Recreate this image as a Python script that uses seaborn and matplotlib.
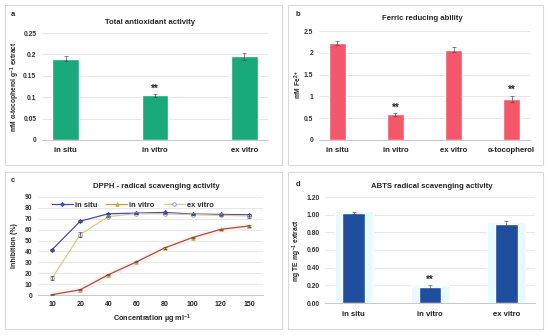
import numpy as np
import pandas as pd
import matplotlib
matplotlib.use("Agg")
import matplotlib.pyplot as plt
from matplotlib.patches import Rectangle
from matplotlib.lines import Line2D
import seaborn as sns

# ---- data ----
tac_labels = ["in situ", "in vitro", "ex vitro"]
tac_values = [0.190, 0.104, 0.196]
tac_errors = [0.006, 0.004, 0.008]

frap_labels = ["in situ", "in vitro", "ex vitro", "α-tocopherol"]
frap_values = [2.22, 0.59, 2.07, 0.95]
frap_errors = [0.05, 0.03, 0.06, 0.07]

conc_labels = ["10", "20", "40", "60", "80", "100", "120", "150"]
dpph_in_situ = [41.6, 67.8, 74.6, 75.2, 75.8, 74.3, 74.0, 73.7]
dpph_in_vitro = [0.3, 4.8, 18.6, 30.4, 43.2, 52.8, 60.3, 63.4]
dpph_ex_vitro = [15.4, 55.5, 72.0, 74.6, 74.6, 73.8, 73.2, 72.6]
dpph_in_situ_err = [0.8, 1.0, 0.6, 0.5, 0.6, 0.5, 0.6, 0.8]
dpph_in_vitro_err = [0.3, 0.4, 0.5, 0.5, 0.6, 0.6, 0.6, 0.7]
dpph_ex_vitro_err = [2.0, 2.5, 0.8, 0.6, 0.6, 0.5, 0.6, 1.5]

abts_labels = ["in situ", "in vitro", "ex vitro"]
abts_values = [1.02, 0.18, 0.90]
abts_errors = [0.015, 0.02, 0.025]

W, H = 550, 335
GREEN = "#19A97B"
RED = "#F4566A"
NAVY = "#1F4E9E"
GRID = "#E3E3E3"

sns.set_theme(style="white")
plt.rcParams["font.family"] = ["Liberation Sans", "DejaVu Sans"]
plt.rcParams["font.weight"] = "bold"
plt.rcParams["mathtext.default"] = "regular"

fig = plt.figure(figsize=(W / 100, H / 100), dpi=100)


def px_axes(l, t, r, b):
    return fig.add_axes([l / W, 1 - b / H, (r - l) / W, (b - t) / H])


def px_text(x, y, s, size=5.5, **kw):
    fig.text(x / W, 1 - y / H, s, fontsize=size, fontweight="bold",
             ha=kw.pop("ha", "center"), va=kw.pop("va", "center"), **kw)


def panel_box(l, t, r, b):
    fig.patches.append(Rectangle((l / W, 1 - b / H), (r - l) / W, (b - t) / H,
                                 transform=fig.transFigure, fill=False,
                                 ec="#D9D9D9", lw=0.8))


def style_axes(ax, ticks, fmt, xpad=5):
    ax.set_yticks(ticks)
    ax.set_yticklabels([fmt(t) for t in ticks])
    ax.set_ylim(ticks[0], ticks[-1])
    ax.grid(axis="y", color=GRID, lw=0.6)
    ax.grid(axis="x", visible=False)
    ax.set_axisbelow(True)
    for s in ["left", "top", "right"]:
        ax.spines[s].set_visible(False)
    ax.spines["bottom"].set_color("#C8C8C8")
    ax.spines["bottom"].set_linewidth(0.7)
    ax.tick_params(axis="y", length=0, pad=4, labelsize=4.9, labelcolor="#333333")
    ax.tick_params(axis="x", length=0, pad=xpad, labelsize=5.6, labelcolor="#222222")
    for lab in ax.get_xticklabels() + ax.get_yticklabels():
        lab.set_fontweight("bold")
    ax.set_xlabel("")
    ax.set_ylabel("")


def stars(ax, idx, vals, errs):
    for i in idx:
        ax.annotate("**", (i, vals[i] + errs[i]), xytext=(0, 0.3),
                    textcoords="offset points", ha="center", va="bottom",
                    fontsize=7, fontweight="bold")


def err(ax, x, vals, errs):
    ax.errorbar(x, vals, yerr=errs, fmt="none", ecolor="#444444",
                elinewidth=0.45, capsize=1.2, capthick=0.45, zorder=5)


# ---- panel a ----
panel_box(5, 5, 282, 165)
ax = px_axes(42, 33, 268, 140)
sns.barplot(x=tac_labels, y=tac_values, color=GREEN, saturation=1,
            width=0.3, ax=ax)
err(ax, range(len(tac_values)), tac_values, tac_errors)
style_axes(ax, [0, 0.05, 0.1, 0.15, 0.2, 0.25], lambda t: f"{t:g}")
stars(ax, [1], tac_values, tac_errors)
px_text(150, 22, "Total antioxidant activity", 5.6)
px_text(13, 15, "a", 5.5)
px_text(15, 87, "mM α-tocopherol g$^{-1}$ extract", 4.8, rotation=90)

# ---- panel b ----
panel_box(288, 5, 543, 165)
ax = px_axes(319, 31, 530, 140)
sns.barplot(x=frap_labels, y=frap_values, color=RED, saturation=1,
            width=0.3, ax=ax)
err(ax, range(len(frap_values)), frap_values, frap_errors)
style_axes(ax, [0, 0.5, 1, 1.5, 2, 2.5], lambda t: f"{t:g}")
stars(ax, [1, 3], frap_values, frap_errors)
px_text(422, 19, "Ferric reducing ability", 5.6)
px_text(298, 14, "b", 5.5)
px_text(298, 84, "mM Fe$^{2+}$", 4.8, rotation=90)

# ---- panel c ----
panel_box(5, 172, 282, 329)
ax = px_axes(38, 197, 263, 295)
xpos = np.arange(len(conc_labels))
ax.fill_between(xpos, np.array(dpph_in_vitro) - 3, np.array(dpph_in_vitro) + 3,
                color="#FDF0F4", lw=0, zorder=1)
series = [
    ("in situ", dpph_in_situ, dpph_in_situ_err, "#3E4FB5", "D", "#3E4FB5", "#3E4FB5", 2.2),
    ("in vitro", dpph_in_vitro, dpph_in_vitro_err, "#A6503A", "^", "#C9A43A", "#C9A43A", 2.6),
    ("ex vitro", dpph_ex_vitro, dpph_ex_vitro_err, "#E2C986", "o", "#EEF0FA", "#7F86C4", 2.6),
]
handles = []
for name, vals, errs, lc, mk, mfc, mec, ms in series:
    sns.lineplot(x=xpos, y=vals, color=lc, lw=0.9, marker=mk, markersize=ms,
                 markerfacecolor=mfc, markeredgecolor=mec, markeredgewidth=0.5,
                 ax=ax, zorder=3)
    err(ax, xpos, vals, errs)
    legend_color = "#C99A4A" if name == "in vitro" else lc
    handles.append(Line2D([], [], color=legend_color, lw=0.9, marker=mk,
                          markersize=ms, markerfacecolor=mfc,
                          markeredgecolor=mec, markeredgewidth=0.5, label=name))
ax.set_xticks(xpos)
ax.set_xticklabels(conc_labels)
ax.set_xlim(-0.5, len(conc_labels) - 0.5)
style_axes(ax, list(range(0, 91, 10)), lambda t: f"{t:g}", xpad=4)
ax.tick_params(axis="x", labelsize=5.0)
leg = ax.legend(handles=handles, loc="upper left", bbox_to_anchor=(0.04, 1.0),
                ncol=3, frameon=False, fontsize=5.4, handlelength=2.8,
                columnspacing=1.2, handletextpad=0.3, borderaxespad=0.2)
for t in leg.get_texts():
    t.set_fontweight("bold")
px_text(156, 186, "DPPH - radical scavenging activity", 5.6)
px_text(13, 181, "c", 5.5)
px_text(15, 246, "Inhibition (%)", 5.0, rotation=90)
px_text(152, 319, "Concentration µg ml$^{-1}$", 5.2)

# ---- panel d ----
panel_box(288, 172, 543, 329)
ax = px_axes(325, 197, 535, 303)
sns.barplot(x=abts_labels, y=[v + 0.02 for v in abts_values], color="#E6FBFD",
            saturation=1, width=0.5, ax=ax)
sns.barplot(x=abts_labels, y=abts_values, color=NAVY, saturation=1,
            width=0.3, ax=ax)
err(ax, range(len(abts_values)), abts_values, abts_errors)
style_axes(ax, [0, 0.2, 0.4, 0.6, 0.8, 1.0, 1.2], lambda t: f"{t:.2f}", xpad=6)
stars(ax, [1], abts_values, abts_errors)
px_text(432, 187, "ABTS radical scavenging activity", 5.6)
px_text(298, 184, "d", 5.5)
px_text(297, 250, "mg TE mg$^{-1}$ extract", 4.8, rotation=90)

fig.savefig("out.png", dpi=100)
